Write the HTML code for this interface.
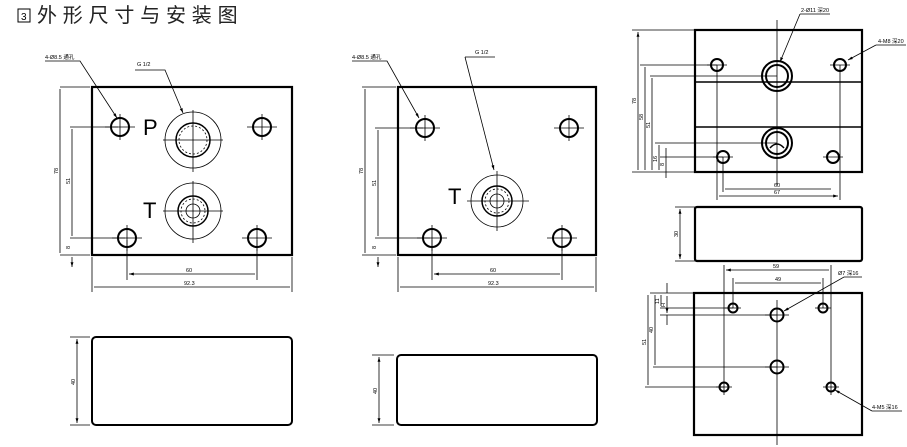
<!DOCTYPE html>
<html><head><meta charset="utf-8"><style>
body{margin:0;background:#fff;width:907px;height:447px;overflow:hidden}
svg{display:block}
text{font-family:"Liberation Sans","Noto Sans CJK SC",sans-serif}
</style></head><body>
<svg width="907" height="447" viewBox="0 0 907 447" xmlns="http://www.w3.org/2000/svg">
<defs>
<marker id="a" viewBox="0 0 10 10" refX="10" refY="5" markerWidth="6" markerHeight="6" orient="auto-start-reverse"><path d="M0,2 L10,5 L0,8z" fill="#000"/></marker>
</defs>
<rect x="18" y="9" width="12" height="13" fill="none" stroke="#000" stroke-width="1"/>
<text x="21" y="20" font-size="10">3</text>
<text x="37" y="22" font-size="20" font-family="'Noto Sans CJK SC',sans-serif" fill="#222" letter-spacing="5.8">外形尺寸与安装图</text>

<g stroke="#000" fill="none" stroke-width="0.8">
<rect x="92" y="87" width="200" height="168" stroke-width="2.2"/>
<g stroke-width="2"><circle cx="120" cy="127" r="9"/><circle cx="262" cy="127" r="9"/><circle cx="127" cy="238" r="9"/><circle cx="257" cy="238" r="9"/></g>
<path d="M105,127h30M120,114v26M247,127h30M262,114v26M112,238h30M127,225v26M242,238h30M257,225v26"/>
<circle cx="193" cy="140" r="28"/><circle cx="193" cy="140" r="17" stroke-width="1.5"/><circle cx="193" cy="140" r="14" stroke-dasharray="2,2"/>
<circle cx="193" cy="211" r="28"/><circle cx="193" cy="211" r="15" stroke-width="1.5"/><circle cx="193" cy="211" r="12" stroke-dasharray="2,2"/><circle cx="193" cy="211" r="7"/>
<path d="M163,140h60M193,110v62M163,211h60M193,181v62"/>
<path d="M45,61h35l37,57" marker-end="url(#a)"/>
<path d="M135,70h30l18,43" marker-end="url(#a)"/>
<path d="M127,240v40M257,240v40M92,257v35M292,257v35M60,87h30M70,127h48M70,238h55M60,255h30"/>
<path d="M129,274h126M94,287h196M60,89v164M72,129v107M72,236v-10M72,257v10" marker-end="url(#a)" marker-start="url(#a)"/>
<rect x="92" y="337" width="200" height="88" rx="4" stroke-width="2"/>
<path d="M70,337h20M70,425h20"/>
<path d="M77,339v84" marker-end="url(#a)" marker-start="url(#a)"/>

<rect x="398" y="87" width="198" height="168" stroke-width="2.2"/>
<g stroke-width="2"><circle cx="425" cy="128" r="9"/><circle cx="569" cy="128" r="9"/><circle cx="432" cy="238" r="9"/><circle cx="562" cy="238" r="9"/></g>
<path d="M410,128h30M425,115v26M554,128h30M569,115v26M417,238h30M432,225v26M547,238h30M562,225v26"/>
<circle cx="497" cy="201" r="26"/><circle cx="497" cy="201" r="15" stroke-width="1.5"/><circle cx="497" cy="201" r="12" stroke-dasharray="2,2"/><circle cx="497" cy="201" r="7"/>
<path d="M467,201h62M497,171v60"/>
<path d="M352,61h35l32,57" marker-end="url(#a)"/>
<path d="M465,57h30M465,57l29,113" marker-end="url(#a)"/>
<path d="M432,240v40M562,240v40M398,257v35M596,257v35M362,87h34M375,128h48M375,238h55M362,255h34"/>
<path d="M434,274h126M400,287h194M365,89v164M378,130v106M378,236v-10M378,257v10" marker-end="url(#a)" marker-start="url(#a)"/>
<rect x="397" y="355" width="200" height="70" rx="4" stroke-width="2"/>
<path d="M372,355h22M372,425h22"/>
<path d="M379,357v66" marker-end="url(#a)" marker-start="url(#a)"/>

<rect x="695" y="30" width="167" height="142" stroke-width="2.2"/>
<path d="M695,82h167M695,127h167" stroke-width="1.6"/>
<g stroke-width="2"><circle cx="717" cy="65" r="6"/><circle cx="840" cy="65" r="6"/><circle cx="723" cy="157" r="6"/><circle cx="833" cy="157" r="6"/>
<circle cx="777" cy="76" r="15"/><circle cx="777" cy="76" r="11"/><circle cx="777" cy="143" r="15"/><circle cx="777" cy="143" r="11"/></g>
<path d="M770,148q7,-8 14,0" stroke-width="1.5"/>
<path d="M777,20v165M707,65h20M830,65h20M713,157h20M823,157h20"/>
<path d="M717,65v135M840,65v135M723,157v35"/>
<path d="M800,14h30M800,14l-20,48" marker-end="url(#a)"/>
<path d="M876,45h30M876,45l-28,15" marker-end="url(#a)"/>
<path d="M632,30h63M640,65h77M650,76h127M655,143h122M660,157h63M632,172h63M666,148v30"/>
<path d="M638,32v138M645,67v103M652,78v92M659,145v25M725,189h106M719,196h119" marker-end="url(#a)" marker-start="url(#a)"/>
<rect x="695" y="207" width="167" height="54" rx="2" stroke-width="2.2"/>
<path d="M675,207h20M675,261h20"/>
<path d="M680,209v50" marker-end="url(#a)" marker-start="url(#a)"/>
<rect x="694" y="293" width="168" height="142" stroke-width="2.2"/>
<g stroke-width="2"><circle cx="733" cy="308" r="4.5"/><circle cx="823" cy="308" r="4.5"/><circle cx="777" cy="315" r="6.5"/><circle cx="777" cy="367" r="6.5"/><circle cx="724" cy="387" r="4.5"/><circle cx="831" cy="387" r="4.5"/></g>
<path d="M777,300v145M724,265v130M831,265v130M733,278v30M823,278v30M725,308h16M815,308h16M765,315h24M765,367h24M716,387h16M823,387h16"/>
<path d="M650,293h44M660,308h73M660,315h117M653,367h124M645,387h79"/>
<path d="M726,270h103M735,283h86M648,295v90M655,295v70M661,295v11M667,296v17" marker-end="url(#a)" marker-start="url(#a)"/>
<path d="M667,283v10M667,315v10"/>
<path d="M862,277h-18l-60,34" marker-end="url(#a)"/>
<path d="M872,411h30M872,411l-37,-21" marker-end="url(#a)"/>
</g>
<g font-size="5.5" fill="#000">
<text x="45" y="59">4-Ø8.5 通孔</text>
<text x="137" y="66">G 1/2</text>
<text x="352" y="59">4-Ø8.5 通孔</text>
<text x="475" y="54">G 1/2</text>
<text x="186" y="272">60</text><text x="184" y="285">92.3</text>
<text x="490" y="272">60</text><text x="488" y="285">92.3</text>
<text x="774" y="187">60</text><text x="774" y="194">67</text>
<text x="773" y="268">59</text><text x="775" y="281">49</text>
<text x="801" y="12">2-Ø11 深20</text>
<text x="878" y="43">4-M8 深20</text>
<text x="838" y="275">Ø7 深16</text>
<text x="872" y="409">4-M5 深16</text>
<text transform="translate(58,174) rotate(-90)">78</text>
<text transform="translate(70,184) rotate(-90)">51</text>
<text transform="translate(70,249) rotate(-90)">8</text>
<text transform="translate(75,385) rotate(-90)">40</text>
<text transform="translate(363,174) rotate(-90)">78</text>
<text transform="translate(376,186) rotate(-90)">51</text>
<text transform="translate(376,249) rotate(-90)">8</text>
<text transform="translate(377,394) rotate(-90)">40</text>
<text transform="translate(636,104) rotate(-90)">78</text>
<text transform="translate(643,120) rotate(-90)">58</text>
<text transform="translate(650,128) rotate(-90)">51</text>
<text transform="translate(657,162) rotate(-90)">16</text>
<text transform="translate(664,166) rotate(-90)">8</text>
<text transform="translate(678,237) rotate(-90)">30</text>
<text transform="translate(646,345) rotate(-90)">51</text>
<text transform="translate(653,333) rotate(-90)">40</text>
<text transform="translate(659,304) rotate(-90)">11</text>
<text transform="translate(665,307) rotate(-90)">H</text>
</g>
<text x="143" y="135" font-size="22">P</text>
<text x="143" y="218" font-size="22">T</text>
<text x="448" y="204" font-size="22">T</text>
</svg>
</body></html>
